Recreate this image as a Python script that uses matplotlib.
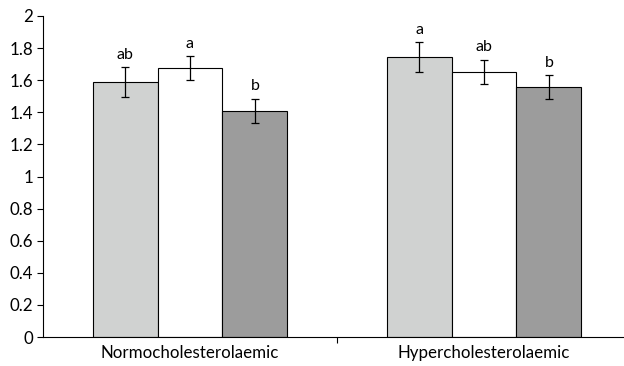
import matplotlib
matplotlib.use("Agg")
import matplotlib.pyplot as plt
import numpy as np

categories = ["Normocholesterolaemic", "Hypercholesterolaemic"]
series_a = [1.587, 1.745]
series_b = [1.674, 1.653]
series_c = [1.410, 1.556]
err_a = [0.093, 0.092]
err_b = [0.075, 0.075]
err_c = [0.075, 0.075]
letters_a = ["ab", "a"]
letters_b = ["a", "ab"]
letters_c = ["b", "b"]
yticks = [0, 0.2, 0.4, 0.6, 0.8, 1, 1.2, 1.4, 1.6, 1.8, 2]
ytick_labels = ["0", "0.2", "0.4", "0.6", "0.8", "1", "1.2", "1.4", "1.6", "1.8", "2"]

plt.rcParams['font.family'] = ['Lato', 'DejaVu Sans']

fig = plt.figure(figsize=(6.24, 3.66), dpi=100)
ax = fig.add_axes([43/624, 1-337/366, (631-43)/624, (337-16)/366])

x = np.arange(len(categories))
w = 0.221
colors = ["#D0D2D1", "#FFFFFF", "#9C9C9C"]
for i, (vals, errs, lets) in enumerate([(series_a, err_a, letters_a),
                                        (series_b, err_b, letters_b),
                                        (series_c, err_c, letters_c)]):
    pos = x + (i - 1) * w
    ax.bar(pos, vals, width=w, color=colors[i], edgecolor="black", linewidth=0.8, zorder=2)
    ax.errorbar(pos, vals, yerr=errs, fmt="none", ecolor="black", elinewidth=0.9,
                capsize=3, capthick=0.9, zorder=3)
    for p, v, e, l in zip(pos, vals, errs, lets):
        ax.annotate(l, (p, v + e), xytext=(0, 4), textcoords="offset points",
                    ha="center", va="bottom", fontsize=11.5)

ax.set_xlim(-0.5, 1.5)
ax.set_ylim(0, 2)
ax.set_yticks(yticks)
ax.set_yticklabels(ytick_labels, fontsize=12.2)
ax.set_xticks(x)
ax.set_xticklabels(categories, fontsize=12.2)
ax.tick_params(axis="x", which="major", length=0, pad=6)
ax.set_xticks([0.5], minor=True)
ax.tick_params(axis="x", which="minor", length=4, width=0.8)
ax.tick_params(axis="y", length=4, width=0.8, pad=3)
for s in ["top", "right"]:
    ax.spines[s].set_visible(False)
ax.spines["left"].set_linewidth(0.8)
ax.spines["bottom"].set_linewidth(0.8)

fig.savefig("out.png", dpi=100)
